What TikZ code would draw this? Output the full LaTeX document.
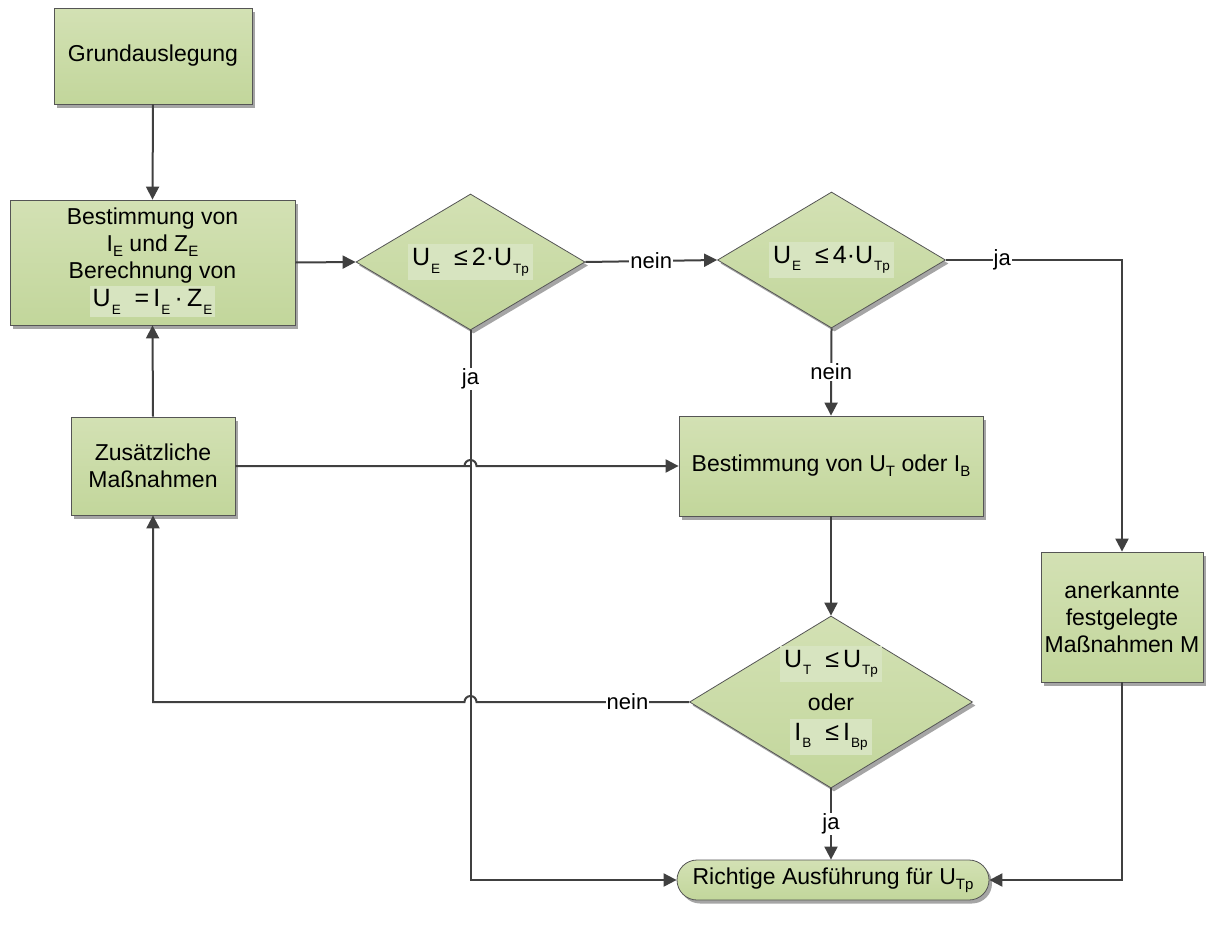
\documentclass[tikz,border=0pt]{standalone}
\usepackage{fontspec}
\setmainfont{Liberation Sans}
\usetikzlibrary{shapes.geometric,shadows,arrows.meta}
\definecolor{gtop}{RGB}{211,225,180}
\definecolor{gbot}{RGB}{194,214,155}
\definecolor{patch}{RGB}{215,228,192}
\definecolor{edgec}{RGB}{64,64,64}
\definecolor{bord}{RGB}{85,85,85}
\definecolor{shad}{RGB}{165,165,165}
\newcommand\lsub[1]{\raisebox{-0.22em}{\fontsize{15}{15}\selectfont #1}}
\newcommand\fsub[1]{\hspace{1pt}\raisebox{-0.3em}{\fontsize{13.5}{13.5}\selectfont #1}}
\setlength{\fboxsep}{3pt}
\begin{document}
\begin{tikzpicture}[x=1pt,y=-1pt,
  font=\fontsize{23}{27}\selectfont,
  shade/.style={draw=bord, line width=0.8pt, top color=gtop, bottom color=gbot,
    drop shadow={shadow xshift=3pt, shadow yshift=-3.5pt, fill=shad, opacity=1}},
  box/.style={shade, rectangle, align=center, inner sep=0pt},
  dia/.style={shade, diamond, inner sep=0pt},
  pill/.style={shade, rectangle, rounded corners=20pt, inner sep=0pt},
  formula/.style={fill=patch, inner sep=4pt, font=\fontsize{25}{25}\selectfont},
  plain/.style={inner sep=0pt, font=\fontsize{23}{23}\selectfont},
  lbl/.style={fill=white, inner sep=1pt, font=\fontsize{22}{22}\selectfont},
  arr/.style={draw=edgec, line width=2pt, -{Triangle[length=13pt,width=13pt]}}
]
\useasboundingbox (0,0) rectangle (1206,926);

% nodes
\node[box, minimum width=198, minimum height=96] (g) at (153,56) {Grundauslegung};
\node[box, minimum width=285, minimum height=125] (b1) at (152.5,262.5)
  {Bestimmung von\\ I\lsub{E} und Z\lsub{E}\\ Berechnung von\\[1pt]
   \colorbox{patch}{\fontsize{25}{25}\selectfont U\fsub{E}\ \ =\,I\fsub{E}\,·\,Z\fsub{E}}};
\node[dia, minimum width=229, minimum height=136] (d1) at (470.5,262) {};
\node[formula] at (d1) {U\fsub{E}\ \ ≤\,2·U\fsub{Tp}};
\node[dia, minimum width=228, minimum height=136] (d2) at (831.5,260) {};
\node[formula] at (d2) {U\fsub{E}\ \ ≤\,4·U\fsub{Tp}};
\node[box, minimum width=164, minimum height=98] (z) at (153,466) {Zusätzliche\\ Maßnahmen};
\node[box, minimum width=304, minimum height=100] (bu) at (831,466)
  {Bestimmung von U\lsub{T} oder I\lsub{B}};
\node[dia, minimum width=283, minimum height=172] (d3) at (831,702) {};
\node[formula] at (831,664) {U\fsub{T}\ \ ≤\,U\fsub{Tp}};
\node[plain] at (831,702) {oder};
\node[formula] at (831,737) {I\fsub{B}\ \ ≤\,I\fsub{Bp}};
\node[box, minimum width=162, minimum height=130] (ak) at (1122,617)
  {anerkannte\\ festgelegte\\ Maßnahmen M};
\node[pill, minimum width=312, minimum height=40] (p) at (833,880)
  {Richtige Ausführung für U\lsub{Tp}};

% connectors
\draw[arr] (g.south) -- (b1.north);
\draw[arr] (b1.east) -- (d1.west);
\draw[arr] (d1.east) -- node[lbl]{nein} (d2.west);
\draw[arr] (d2.east) -| node[lbl,pos=0.16]{ja} (ak.north);
\draw[arr] (d2.south) -- node[lbl]{nein} (bu.north);
\draw[arr] (bu.south) -- (d3.north);
\draw[arr] (d3.south) -- node[lbl]{ja} (d3.south |- p.north);
\draw[arr] (ak.south) |- (p.east);
\draw[arr] (d1.south) |- node[lbl,pos=0.044]{ja} (p.west);
\draw[arr] (z.north) -- (b1.south);
\draw[arr] (z.east) -- (d1.south |- z.east) ++(-6,0)
  arc[start angle=180,end angle=0,radius=6pt] -- (bu.west);
\draw[arr] (d3.west) -- node[lbl,pos=0.29]{nein} ([xshift=6pt]d1.south |- d3.west)
  arc[start angle=0,end angle=180,radius=6pt] -| (z.south);
\end{tikzpicture}
\end{document}
